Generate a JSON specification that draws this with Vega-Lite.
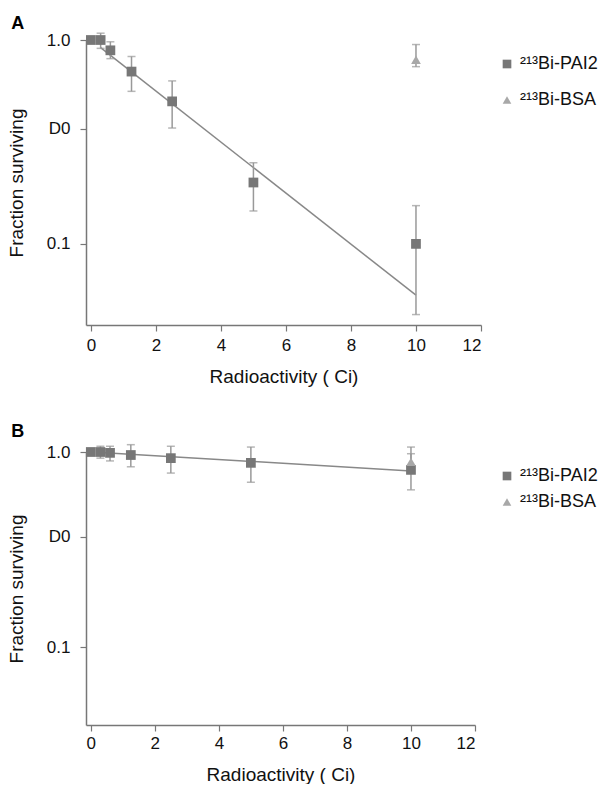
{
  "$schema": "https://vega.github.io/schema/vega-lite/v6.json",
  "background": "white",
  "padding": {"left": 7, "top": 15, "right": 5, "bottom": 0},
  "config": {
    "font": "Liberation Sans",
    "view": {"stroke": null},
    "axis": {"grid": false, "domainColor": "#777", "domainWidth": 1.5, "tickColor": "#777", "tickWidth": 1.2, "tickSize": 6, "labelColor": "#111", "labelFontSize": 17, "titleFontSize": 19, "titleFontWeight": "normal", "titleColor": "#111", "labelFont": "Liberation Sans", "titleFont": "Liberation Sans"},
    "legend": {"padding": 0, "labelFontSize": 18, "labelColor": "#111", "labelFont": "Liberation Sans", "symbolSize": 75, "symbolStrokeWidth": 0},
    "title": {"fontSize": 18, "fontWeight": "bold", "font": "Liberation Sans", "anchor": "start", "frame": "bounds", "color": "#000"}
  },
  "datasets": {
    "ptsA": [
      {"x": 0, "y": 1.0, "lo": 1.0, "hi": 1.0, "series": "²¹³Bi-PAI2"},
      {"x": 0.3, "y": 1.0, "lo": 0.91, "hi": 1.08, "series": "²¹³Bi-PAI2"},
      {"x": 0.6, "y": 0.89, "lo": 0.81, "hi": 0.98, "series": "²¹³Bi-PAI2"},
      {"x": 1.25, "y": 0.70, "lo": 0.56, "hi": 0.83, "series": "²¹³Bi-PAI2"},
      {"x": 2.5, "y": 0.50, "lo": 0.37, "hi": 0.63, "series": "²¹³Bi-PAI2"},
      {"x": 5, "y": 0.20, "lo": 0.145, "hi": 0.25, "series": "²¹³Bi-PAI2"},
      {"x": 10, "y": 0.10, "lo": 0.045, "hi": 0.154, "series": "²¹³Bi-PAI2"},
      {"x": 10, "y": 0.80, "lo": 0.74, "hi": 0.95, "series": "²¹³Bi-BSA"}
    ],
    "fitA": [
      {"x": 0.3, "y": 0.917},
      {"x": 10, "y": 0.056}
    ],
    "ptsB": [
      {"x": 0, "y": 1.0, "lo": 1.0, "hi": 1.0, "series": "²¹³Bi-PAI2"},
      {"x": 0.3, "y": 1.0, "lo": 0.93, "hi": 1.07, "series": "²¹³Bi-PAI2"},
      {"x": 0.6, "y": 0.99, "lo": 0.9, "hi": 1.07, "series": "²¹³Bi-PAI2"},
      {"x": 1.25, "y": 0.965, "lo": 0.84, "hi": 1.09, "series": "²¹³Bi-PAI2"},
      {"x": 2.5, "y": 0.93, "lo": 0.78, "hi": 1.07, "series": "²¹³Bi-PAI2"},
      {"x": 5, "y": 0.88, "lo": 0.70, "hi": 1.06, "series": "²¹³Bi-PAI2"},
      {"x": 10, "y": 0.81, "lo": 0.64, "hi": 1.06, "series": "²¹³Bi-PAI2"},
      {"x": 10, "y": 0.89, "lo": 0.82, "hi": 0.98, "series": "²¹³Bi-BSA"}
    ],
    "fitB": [
      {"x": 0.3, "y": 0.995},
      {"x": 10, "y": 0.80}
    ]
  },
  "resolve": {"legend": {"shape": "independent", "color": "independent"}, "scale": {"shape": "independent", "color": "independent"}},
  "vconcat": [
    {
      "title": {"text": "A", "offset": -2, "dx": 4},
      "width": 395,
      "height": 285,
      "layer": [
        {
          "mark": {"type": "rule", "color": "#bbb", "strokeDash": [1, 1], "strokeWidth": 1},
          "encoding": {"y": {"datum": 0.368, "type": "quantitative", "scale": {"type": "log", "domain": [0.04, 1], "nice": false}}}
        },
        {
          "data": {"name": "fitA"},
          "mark": {"type": "line", "color": "#888", "strokeWidth": 1.5},
          "encoding": {
            "x": {"field": "x", "type": "quantitative"},
            "y": {"field": "y", "type": "quantitative"}
          }
        },
        {
          "data": {"name": "ptsA"},
          "mark": {"type": "rule", "color": "#999", "strokeWidth": 1.5},
          "encoding": {
            "x": {"field": "x", "type": "quantitative"},
            "y": {"field": "lo", "type": "quantitative"},
            "y2": {"field": "hi"}
          }
        },
        {
          "data": {"name": "ptsA"},
          "mark": {"type": "tick", "color": "#999", "orient": "horizontal", "size": 8, "thickness": 1.5},
          "encoding": {
            "x": {"field": "x", "type": "quantitative"},
            "y": {"field": "lo", "type": "quantitative"}
          }
        },
        {
          "data": {"name": "ptsA"},
          "mark": {"type": "tick", "color": "#999", "orient": "horizontal", "size": 8, "thickness": 1.5},
          "encoding": {
            "x": {"field": "x", "type": "quantitative"},
            "y": {"field": "hi", "type": "quantitative"}
          }
        },
        {
          "data": {"name": "ptsA"},
          "mark": {"type": "point", "filled": true, "opacity": 1, "size": 95},
          "encoding": {
            "x": {"field": "x", "type": "quantitative", "scale": {"domain": [-0.15, 12], "nice": false},
              "axis": {"values": [0, 2, 4, 6, 8, 10, 12], "title": "Radioactivity (   Ci)", "titlePadding": 14, "labelPadding": 6}},
            "y": {"field": "y", "type": "quantitative", "scale": {"type": "log", "domain": [0.04, 1], "nice": false},
              "axis": {"values": [1, 0.368, 0.1], "labelExpr": "datum.value > 0.5 ? '1.0' : (datum.value > 0.2 ? 'D0' : '0.1')", "title": "Fraction surviving", "titlePadding": 20, "labelPadding": 10}},
            "shape": {"field": "series", "type": "nominal", "sort": ["²¹³Bi-PAI2", "²¹³Bi-BSA"],
              "scale": {"domain": ["²¹³Bi-PAI2", "²¹³Bi-BSA"], "range": ["square", "triangle-up"]},
              "legend": {"title": null, "orient": "none", "legendX": 412, "legendY": 15, "rowPadding": 18}},
            "color": {"field": "series", "type": "nominal",
              "scale": {"domain": ["²¹³Bi-PAI2", "²¹³Bi-BSA"], "range": ["#777777", "#a8a8a8"]},
              "legend": {"title": null, "orient": "none", "legendX": 412, "legendY": 15, "rowPadding": 18}}
          }
        }
      ]
    },
    {
      "title": {"text": "B", "offset": 2, "dx": 4},
      "width": 389,
      "height": 273,
      "layer": [
        {
          "mark": {"type": "rule", "color": "#bbb", "strokeDash": [1, 1], "strokeWidth": 1},
          "encoding": {"y": {"datum": 0.368, "type": "quantitative", "scale": {"type": "log", "domain": [0.04, 1], "nice": false}}}
        },
        {
          "data": {"name": "fitB"},
          "mark": {"type": "line", "color": "#888", "strokeWidth": 1.5},
          "encoding": {
            "x": {"field": "x", "type": "quantitative"},
            "y": {"field": "y", "type": "quantitative"}
          }
        },
        {
          "data": {"name": "ptsB"},
          "mark": {"type": "rule", "color": "#999", "strokeWidth": 1.5},
          "encoding": {
            "x": {"field": "x", "type": "quantitative"},
            "y": {"field": "lo", "type": "quantitative"},
            "y2": {"field": "hi"}
          }
        },
        {
          "data": {"name": "ptsB"},
          "mark": {"type": "tick", "color": "#999", "orient": "horizontal", "size": 8, "thickness": 1.5},
          "encoding": {
            "x": {"field": "x", "type": "quantitative"},
            "y": {"field": "lo", "type": "quantitative"}
          }
        },
        {
          "data": {"name": "ptsB"},
          "mark": {"type": "tick", "color": "#999", "orient": "horizontal", "size": 8, "thickness": 1.5},
          "encoding": {
            "x": {"field": "x", "type": "quantitative"},
            "y": {"field": "hi", "type": "quantitative"}
          }
        },
        {
          "data": {"name": "ptsB"},
          "mark": {"type": "point", "filled": true, "opacity": 1, "size": 95},
          "encoding": {
            "x": {"field": "x", "type": "quantitative", "scale": {"domain": [-0.15, 12], "nice": false},
              "axis": {"values": [0, 2, 4, 6, 8, 10, 12], "title": "Radioactivity (   Ci)", "titlePadding": 14, "labelPadding": 4}},
            "y": {"field": "y", "type": "quantitative", "scale": {"type": "log", "domain": [0.04, 1], "nice": false},
              "axis": {"values": [1, 0.368, 0.1], "labelExpr": "datum.value > 0.5 ? '1.0' : (datum.value > 0.2 ? 'D0' : '0.1')", "title": "Fraction surviving", "titlePadding": 20, "labelPadding": 10}},
            "shape": {"field": "series", "type": "nominal", "sort": ["²¹³Bi-PAI2", "²¹³Bi-BSA"],
              "scale": {"domain": ["²¹³Bi-PAI2", "²¹³Bi-BSA"], "range": ["square", "triangle-up"]},
              "legend": {"title": null, "orient": "none", "legendX": 412, "legendY": 15, "rowPadding": 8}},
            "color": {"field": "series", "type": "nominal",
              "scale": {"domain": ["²¹³Bi-PAI2", "²¹³Bi-BSA"], "range": ["#777777", "#a8a8a8"]},
              "legend": {"title": null, "orient": "none", "legendX": 412, "legendY": 15, "rowPadding": 8}}
          }
        }
      ]
    }
  ],
  "spacing": 37
}
